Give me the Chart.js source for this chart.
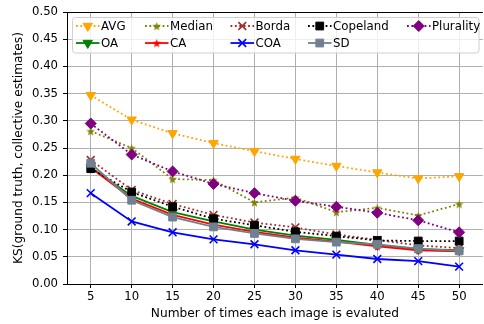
<!DOCTYPE html>
<html>
<head>
<meta charset="utf-8">
<script src="https://cdn.jsdelivr.net/npm/chart.js@4.4.1/dist/chart.umd.min.js"></script>
<style>
  html, body { margin: 0; padding: 0; background: #fff; overflow: hidden; }
  #wrap { width: 490px; height: 324px; }
</style>
</head>
<body>
<div id="wrap"><canvas id="ksChart" width="490" height="324"></canvas></div>
<script>
// Evaluations per image and KS distance for each aggregation method
const evals = [5, 10, 15, 20, 25, 30, 35, 40, 45, 50];
const yTicks = [0, 0.05, 0.1, 0.15, 0.2, 0.25, 0.3, 0.35, 0.4, 0.45, 0.5];

const avg = [0.347, 0.302, 0.277, 0.259, 0.244, 0.230, 0.217, 0.205, 0.194, 0.198];
const median = [0.281, 0.250, 0.193, 0.191, 0.150, 0.159, 0.132, 0.140, 0.126, 0.147];
const borda = [0.228, 0.173, 0.147, 0.127, 0.113, 0.104, 0.091, 0.081, 0.071, 0.066];
const copeland = [0.212, 0.169, 0.142, 0.120, 0.108, 0.096, 0.088, 0.080, 0.079, 0.079];
const plurality = [0.295, 0.238, 0.207, 0.184, 0.167, 0.153, 0.142, 0.131, 0.117, 0.095];
const oa = [0.214, 0.162, 0.132, 0.115, 0.100, 0.089, 0.081, 0.072, 0.064, 0.062];
const ca = [0.214, 0.157, 0.127, 0.109, 0.096, 0.085, 0.078, 0.069, 0.062, 0.060];
const coa = [0.167, 0.115, 0.095, 0.082, 0.073, 0.062, 0.054, 0.046, 0.042, 0.032];
const sd = [0.222, 0.154, 0.123, 0.105, 0.093, 0.083, 0.077, 0.073, 0.065, 0.061];

const FONT = 'DejaVu Sans';
const FSIZE = 12.2;
const TICK_FSIZE = 11.7;
const LEGEND_FSIZE = 11.8;

// filled five-point star, used as a point style
function starImage(color) {
    const c = document.createElement('canvas');
    c.width = c.height = 11;
    const g = c.getContext('2d');
    g.beginPath();
    for (let i = 0; i < 10; i++) {
        const r = i % 2 ? 1.9 : 4.6;
        const a = -Math.PI / 2 + i * Math.PI / 5;
        g.lineTo(5.5 + r * Math.cos(a), 6 + r * Math.sin(a));
    }
    g.closePath();
    g.fillStyle = color;
    g.fill();
    return c;
}

const DOT = [1.8, 2.6];

function series(label, values, color, style, dotted, extra) {
    return Object.assign({
        label: label,
        data: values.map((v, i) => ({ x: evals[i], y: v })),
        borderColor: color,
        backgroundColor: color,
        pointBackgroundColor: color,
        pointBorderColor: color,
        borderWidth: 1.8,
        borderDash: dotted ? DOT : [],
        borderCapStyle: 'butt',
        pointStyle: style,
        pointRadius: 5.5,
        pointBorderWidth: 1,
        tension: 0,
        fill: false
    }, extra || {});
}

// plotting order: later series sit on top
const datasets = [
    series('AVG', avg, '#ffa500', 'triangle', true, { pointRotation: 180, pointRadius: 5.4 }),
    series('OA', oa, '#008000', 'triangle', false, { pointRotation: 180, pointRadius: 5.4 }),
    series('Median', median, '#808000', starImage('#808000'), true),
    series('CA', ca, '#ff0000', starImage('#ff0000'), false),
    series('Borda', borda, '#a52a2a', 'crossRot', true, { pointBorderWidth: 1.6 }),
    series('COA', coa, '#0000ff', 'crossRot', false, { pointBorderWidth: 1.6 }),
    series('Copeland', copeland, '#000000', 'rect', true),
    series('SD', sd, '#708090', 'rect', false),
    series('Plurality', plurality, '#800080', 'rectRot', true)
];
datasets.forEach((d, i) => { d.order = datasets.length - i; });

// legend laid out in two rows, five columns, inside the axes
const legendCols = [9, 78, 163.5, 241, 340];
const legendRows = [14, 31];

const frameAndLegend = {
    id: 'frameAndLegend',
    afterDraw(chart) {
        const ctx = chart.ctx;
        const a = chart.chartArea;
        ctx.save();
        // top spine
        ctx.strokeStyle = '#000';
        ctx.lineWidth = 1;
        ctx.beginPath();
        ctx.moveTo(a.left, a.top + 0.5);
        ctx.lineTo(a.right, a.top + 0.5);
        ctx.stroke();

        // legend box
        const bx = a.left + 5.5, by = a.top + 5.5, bw = 406.5, bh = 35.5;
        ctx.beginPath();
        ctx.roundRect(bx, by, bw, bh, 3);
        ctx.fillStyle = 'rgba(255,255,255,0.8)';
        ctx.fill();
        ctx.strokeStyle = '#d0d0d0';
        ctx.lineWidth = 1;
        ctx.stroke();

        ctx.font = LEGEND_FSIZE + 'px "' + FONT + '"';
        ctx.textBaseline = 'middle';
        ctx.textAlign = 'left';
        datasets.forEach((d, i) => {
            const x0 = a.left + legendCols[Math.floor(i / 2)];
            const y0 = a.top + legendRows[i % 2];
            ctx.save();
            ctx.strokeStyle = d.borderColor;
            ctx.lineWidth = d.borderWidth;
            ctx.lineCap = 'butt';
            ctx.setLineDash(d.borderDash);
            ctx.beginPath();
            ctx.moveTo(x0, y0);
            ctx.lineTo(x0 + 23.5, y0);
            ctx.stroke();
            ctx.setLineDash([]);
            ctx.fillStyle = d.pointBackgroundColor;
            ctx.strokeStyle = d.pointBorderColor;
            ctx.lineWidth = d.pointBorderWidth;
            Chart.helpers.drawPoint(ctx, {
                pointStyle: d.pointStyle,
                rotation: d.pointRotation || 0,
                radius: d.pointRadius,
                borderWidth: d.pointBorderWidth
            }, x0 + 11.75, y0);
            ctx.restore();
            ctx.fillStyle = '#000';
            ctx.fillText(d.label, x0 + 25, y0 + 0.5);
        });
        ctx.restore();
    }
};

const ctx = document.getElementById('ksChart').getContext('2d');
new Chart(ctx, {
    type: 'line',
    data: { datasets: datasets },
    options: {
        responsive: false,
        animation: false,
        layout: { padding: { top: 11, right: 4, left: 0, bottom: 0 } },
        plugins: {
            legend: { display: false },
            tooltip: { enabled: false }
        },
        scales: {
            x: {
                type: 'linear',
                min: 2.1,
                max: 52.9,
                afterBuildTicks: s => { s.ticks = evals.map(v => ({ value: v })); },
                afterFit: s => { s.height = 40; },
                grid: { color: '#b0b0b0', lineWidth: 1, tickLength: 4, tickColor: '#000' },
                border: { color: '#000', width: 1 },
                ticks: {
                    color: '#000',
                    padding: 2,
                    maxRotation: 0,
                    font: { family: FONT, size: TICK_FSIZE }
                },
                title: {
                    display: true,
                    text: 'Number of times each image is evaluted',
                    color: '#000',
                    padding: { top: 0, bottom: 3 },
                    font: { family: FONT, size: FSIZE }
                }
            },
            y: {
                min: 0,
                max: 0.5,
                afterBuildTicks: s => { s.ticks = yTicks.map(v => ({ value: v })); },
                afterFit: s => { s.width = 67; },
                grid: { color: '#b0b0b0', lineWidth: 1, tickLength: 4, tickColor: '#000' },
                border: { color: '#000', width: 1 },
                ticks: {
                    color: '#000',
                    padding: 5,
                    font: { family: FONT, size: TICK_FSIZE },
                    callback: v => v.toFixed(2)
                },
                title: {
                    display: true,
                    text: 'KS(ground truth, collective estimates)',
                    color: '#000',
                    padding: { top: 12, bottom: 0 },
                    font: { family: FONT, size: FSIZE }
                }
            }
        }
    },
    plugins: [frameAndLegend]
});
</script>
</body>
</html>
